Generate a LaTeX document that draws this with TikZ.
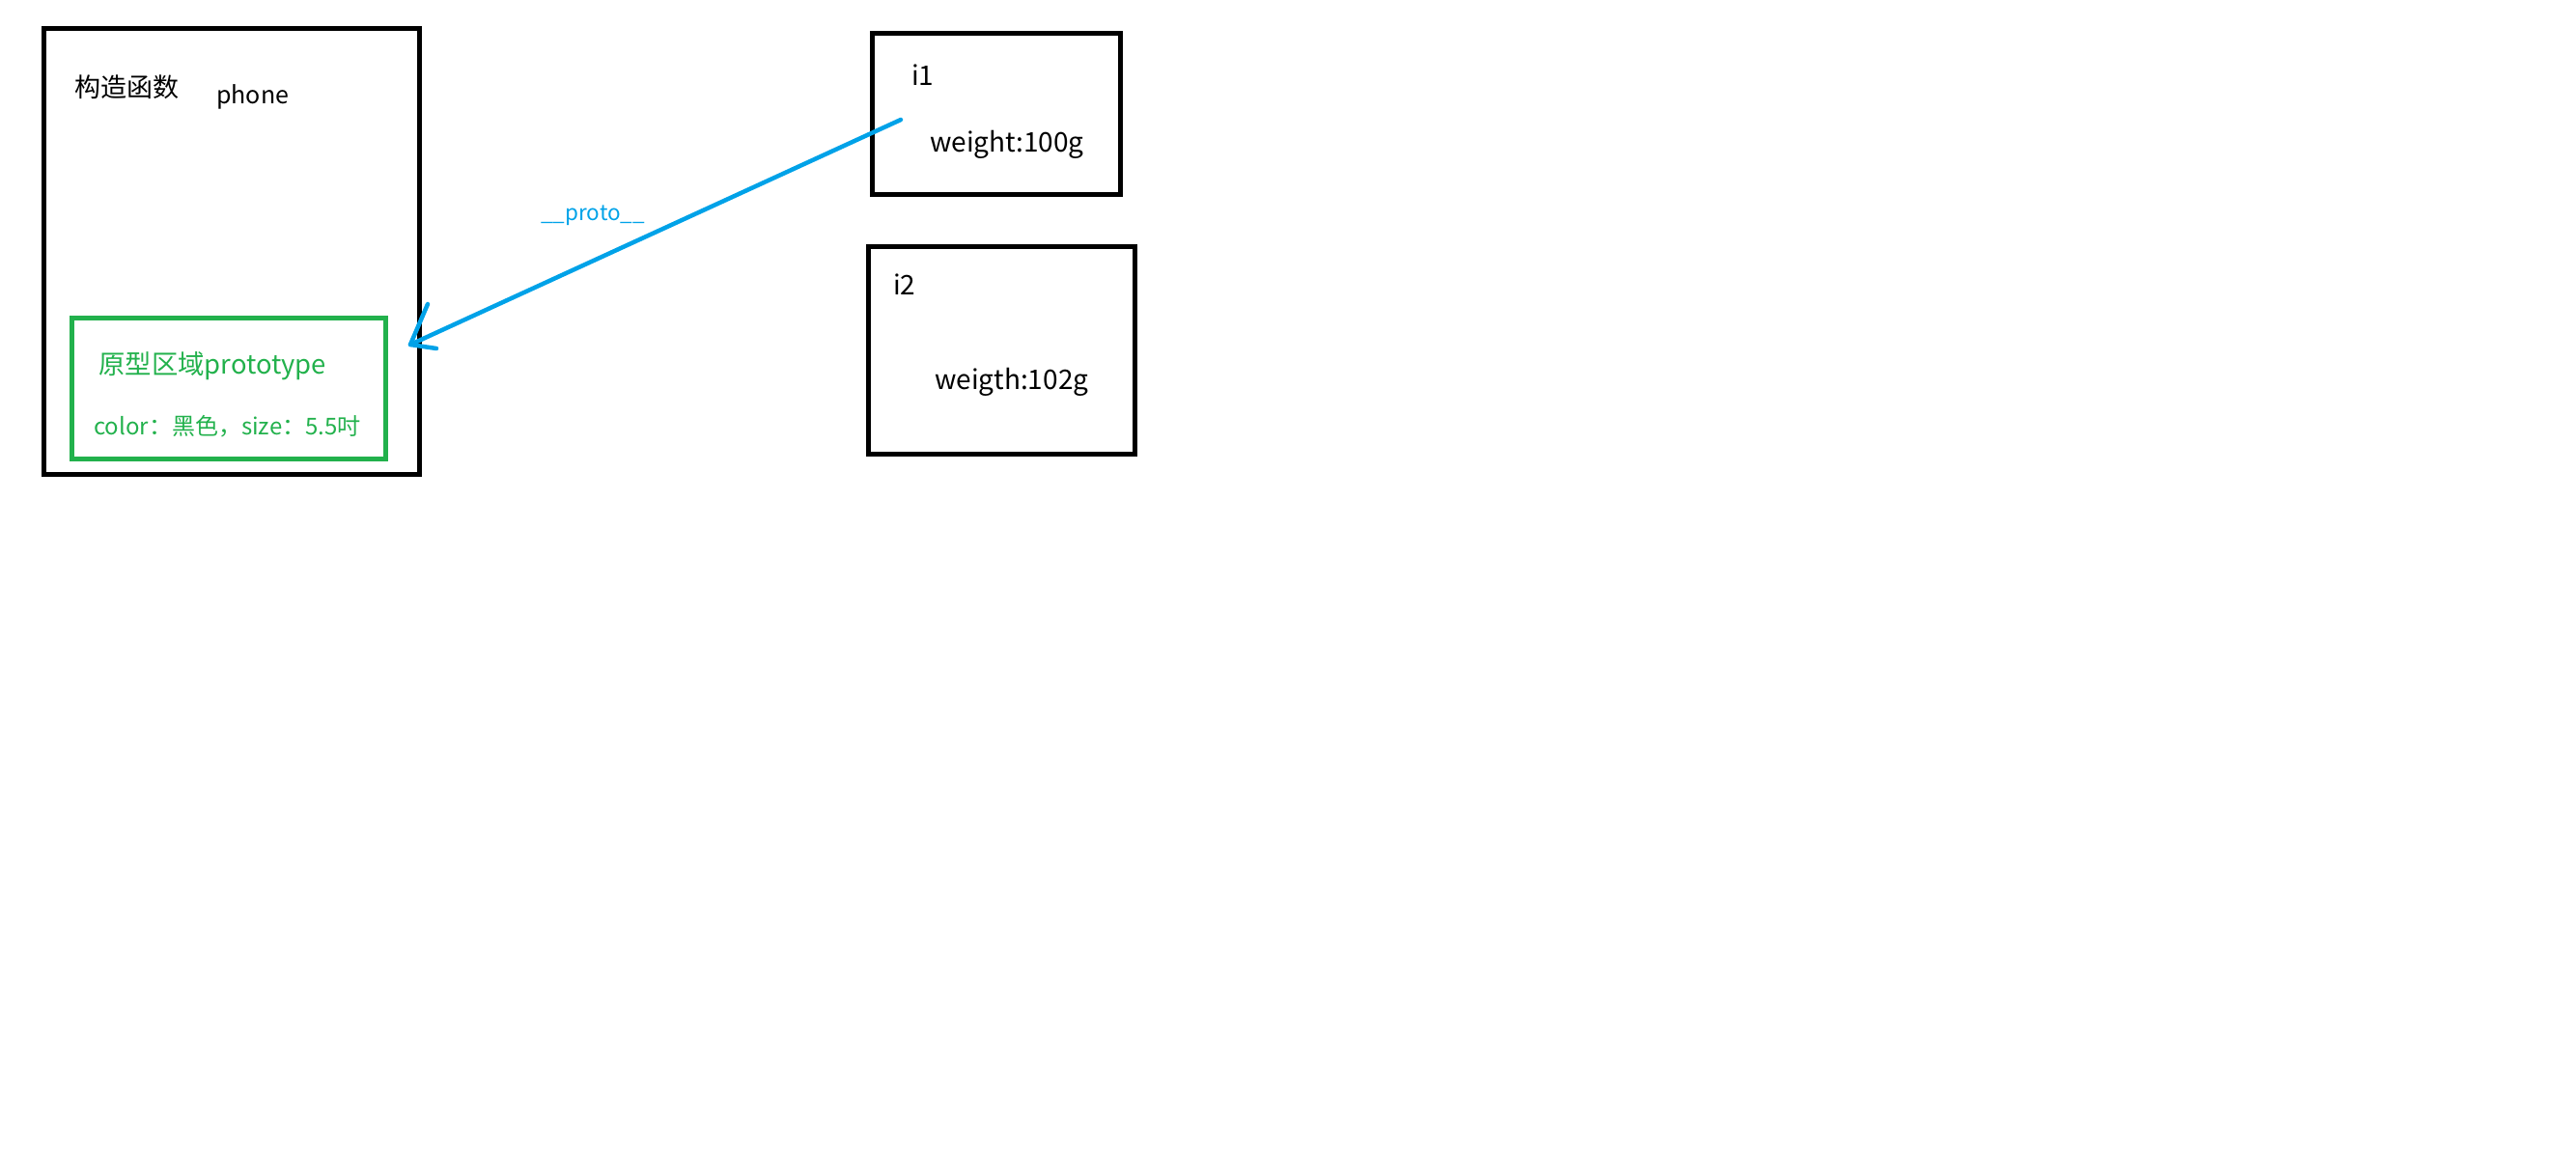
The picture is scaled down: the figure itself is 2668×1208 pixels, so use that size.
\documentclass[tikz,border=0pt]{standalone}
\usepackage{fontspec}
\setmainfont{Noto Sans CJK SC}
\definecolor{pgreen}{RGB}{34,177,76}
\definecolor{pblue}{RGB}{0,162,232}
\begin{document}
\begin{tikzpicture}[x=1pt,y=-1pt,
  box/.style={draw=black,line width=5pt,inner sep=0pt},
  gbox/.style={draw=pgreen,line width=5pt,inner sep=0pt},
  txt/.style={inner sep=0pt,anchor=base west},
  link/.style={draw=pblue,line width=4.5pt,line cap=round,line join=round}]
\useasboundingbox (0,0) rectangle (2668,1208);
% boxes
\node[box,minimum width=389pt,minimum height=462pt] (ctor) at (240,260.5) {};
\node[gbox,minimum width=325pt,minimum height=146pt] (proto) at (237,402.5) {};
\node[box,minimum width=257pt,minimum height=167pt] (i1) at (1032,118) {};
\node[box,minimum width=276pt,minimum height=215pt] (i2) at (1037.5,363) {};
% texts
\node[txt,font=\fontsize{27}{31}\selectfont] (tctor) at (77,100) {构造函数};
\node[txt,font=\fontsize{25}{29}\selectfont] (tphone) at (224,107) {phone};
\node[txt,font=\fontsize{27.4}{31}\selectfont,text=pgreen] (tproto) at (102,387) {原型区域prototype};
\node[txt,font=\fontsize{24}{28}\selectfont,text=pgreen] (tcolor) at (97,450) {color：黑色，size：5.5吋};
\node[txt,font=\fontsize{28}{32}\selectfont] (ti1) at (944,88) {i1};
\node[txt,font=\fontsize{28}{32}\selectfont] (tw1) at (963,157) {weight:100g};
\node[txt,font=\fontsize{28}{32}\selectfont] (ti2) at (925,305) {i2};
\node[txt,font=\fontsize{28}{32}\selectfont] (tw2) at (968,403) {weigth:102g};
\node[txt,font=\fontsize{22.5}{26}\selectfont,text=pblue] (tlink) at (560,228) {\_\_proto\_\_};
% connector
\coordinate (s) at (933,124);
\coordinate (tip) at (425,357);
\coordinate (h1) at (443,315);
\coordinate (h2) at (452,361);
\draw[link] (s) -- (tip);
\draw[link] (h1) -- (tip) -- (h2);
\end{tikzpicture}
\end{document}
